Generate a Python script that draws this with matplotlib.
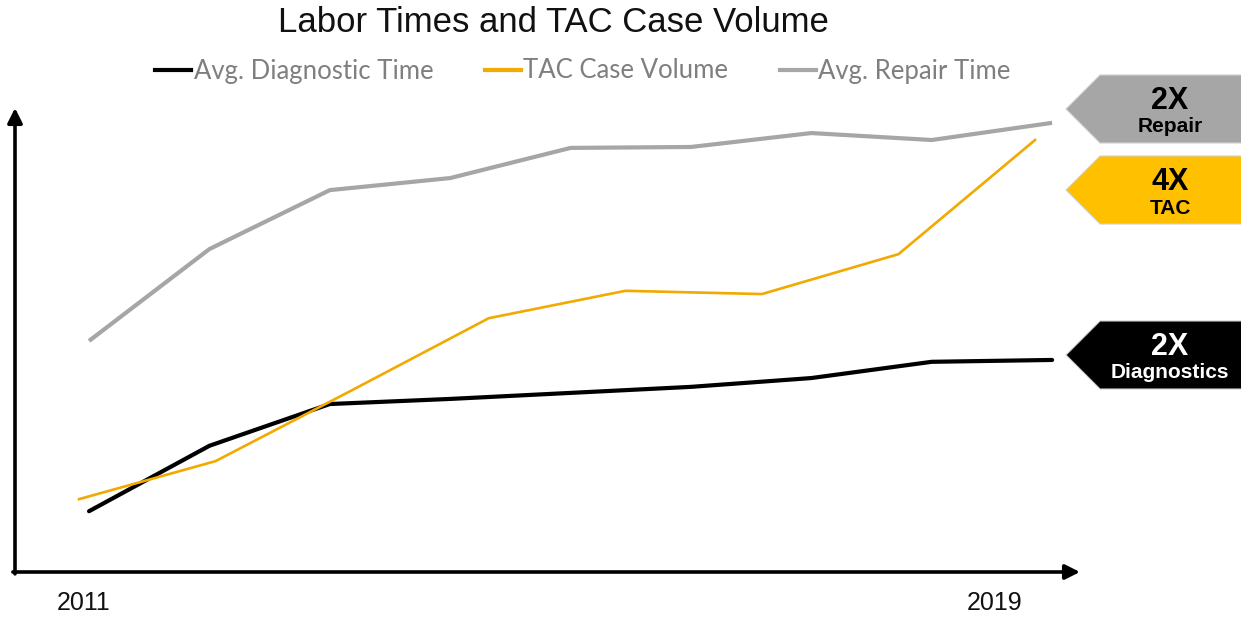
import numpy as np
import matplotlib.pyplot as plt
from matplotlib.lines import Line2D
from matplotlib.patches import Polygon

# data (arbitrary units 0-100)
years = [2011, 2012, 2013, 2014, 2015, 2016, 2017, 2018, 2019]
repair_time = [49.8, 69.6, 82.3, 84.9, 91.4, 91.6, 94.6, 93.1, 96.8]
diag_time = [13.1, 27.2, 36.2, 37.3, 38.6, 39.9, 41.8, 45.3, 45.7]
# TAC series has 8 points, spread over the same width
tac_volume = [15.7, 23.9, 39.2, 54.7, 60.6, 59.9, 68.5, 93.1]

series_names = ['Avg. Diagnostic Time', 'TAC Case Volume', 'Avg. Repair Time']
badge_big = ['2X', '4X', '2X']
badge_small = ['Repair', 'TAC', 'Diagnostics']
tick_labels = ['2011', '2019']

BLACK = '#000000'
ORANGE = '#F2A900'
GRAY = '#A6A6A6'
BADGE_ORANGE = '#FFC000'

W, H = 1241, 617
fig = plt.figure(figsize=(W / 100, H / 100), dpi=100)


def fx(px):
    return px / W


def fy(py):
    return 1 - py / H


ax_rect = [fx(15), fy(572), fx(1080) - fx(15), fy(108) - fy(572)]
ax = fig.add_axes(ax_rect)
ax2 = fig.add_axes(ax_rect)  # overlay for the 8-point TAC series

idx = np.arange(len(years))
ax.plot(idx, repair_time, color=GRAY, lw=3.0, solid_capstyle='butt', zorder=2)
ax.plot(idx, diag_time, color=BLACK, lw=3.0, solid_capstyle='round', zorder=3)
ax2.plot(np.arange(len(tac_volume)), tac_volume, color=ORANGE, lw=1.9, zorder=4)

ax.set_xlim(-0.615, 8.232)
ax2.set_xlim(-0.469, 7.329)
for a in (ax, ax2):
    a.set_ylim(0, 100)
    a.axis('off')
ax2.patch.set_alpha(0)

# axis arrows
arrow = dict(arrowstyle='-|>', lw=2.6, color='k', mutation_scale=22,
             shrinkA=0, shrinkB=0)
ax.annotate('', xy=(0, 1), xytext=(0, -0.004), xycoords='axes fraction',
            arrowprops=arrow, annotation_clip=False)
ax.annotate('', xy=(1, 0), xytext=(-0.002, 0), xycoords='axes fraction',
            arrowprops=arrow, annotation_clip=False)

fig.text(fx(84), fy(603), tick_labels[0], ha='center', va='center',
         fontsize=18, family='Liberation Sans', color='#111111')
fig.text(fx(995), fy(603), tick_labels[1], ha='center', va='center',
         fontsize=18, family='Liberation Sans', color='#111111')

# title
fig.text(fx(553), fy(23), 'Labor Times and TAC Case Volume', ha='center',
         va='center', fontsize=25, family='Liberation Sans', color='#111111')

# legend
handles = [Line2D([], [], color=c, lw=3) for c in (BLACK, ORANGE, GRAY)]
leg = fig.legend(handles, series_names, loc='center',
                 bbox_to_anchor=(fx(583), fy(71)), ncol=3, frameon=False,
                 handlelength=1.4, handletextpad=0.1, columnspacing=2.0,
                 prop={'family': 'Lato', 'size': 18.5})
for t in leg.get_texts():
    t.set_color('#7F7F7F')

# badges on the right
badges = [(109, GRAY, 'k'), (190, BADGE_ORANGE, 'k'), (355, BLACK, 'w')]
for (cy, fc, tc), big, small in zip(badges, badge_big, badge_small):
    pts = [(1066, cy), (1100, cy - 34), (1245, cy - 34),
           (1245, cy + 34), (1100, cy + 34)]
    fig.patches.append(Polygon([(fx(x), fy(y)) for x, y in pts],
                               closed=True, facecolor=fc, edgecolor='#D0D0D0',
                               lw=0.8, transform=fig.transFigure))
    fig.text(fx(1170), fy(cy - 8), big, ha='center', va='center',
             fontsize=22, fontweight='bold', family='Liberation Sans', color=tc)
    fig.text(fx(1170), fy(cy + 18), small, ha='center', va='center',
             fontsize=15, fontweight='bold', family='Liberation Sans', color=tc)

fig.savefig('out.png', dpi=100)
